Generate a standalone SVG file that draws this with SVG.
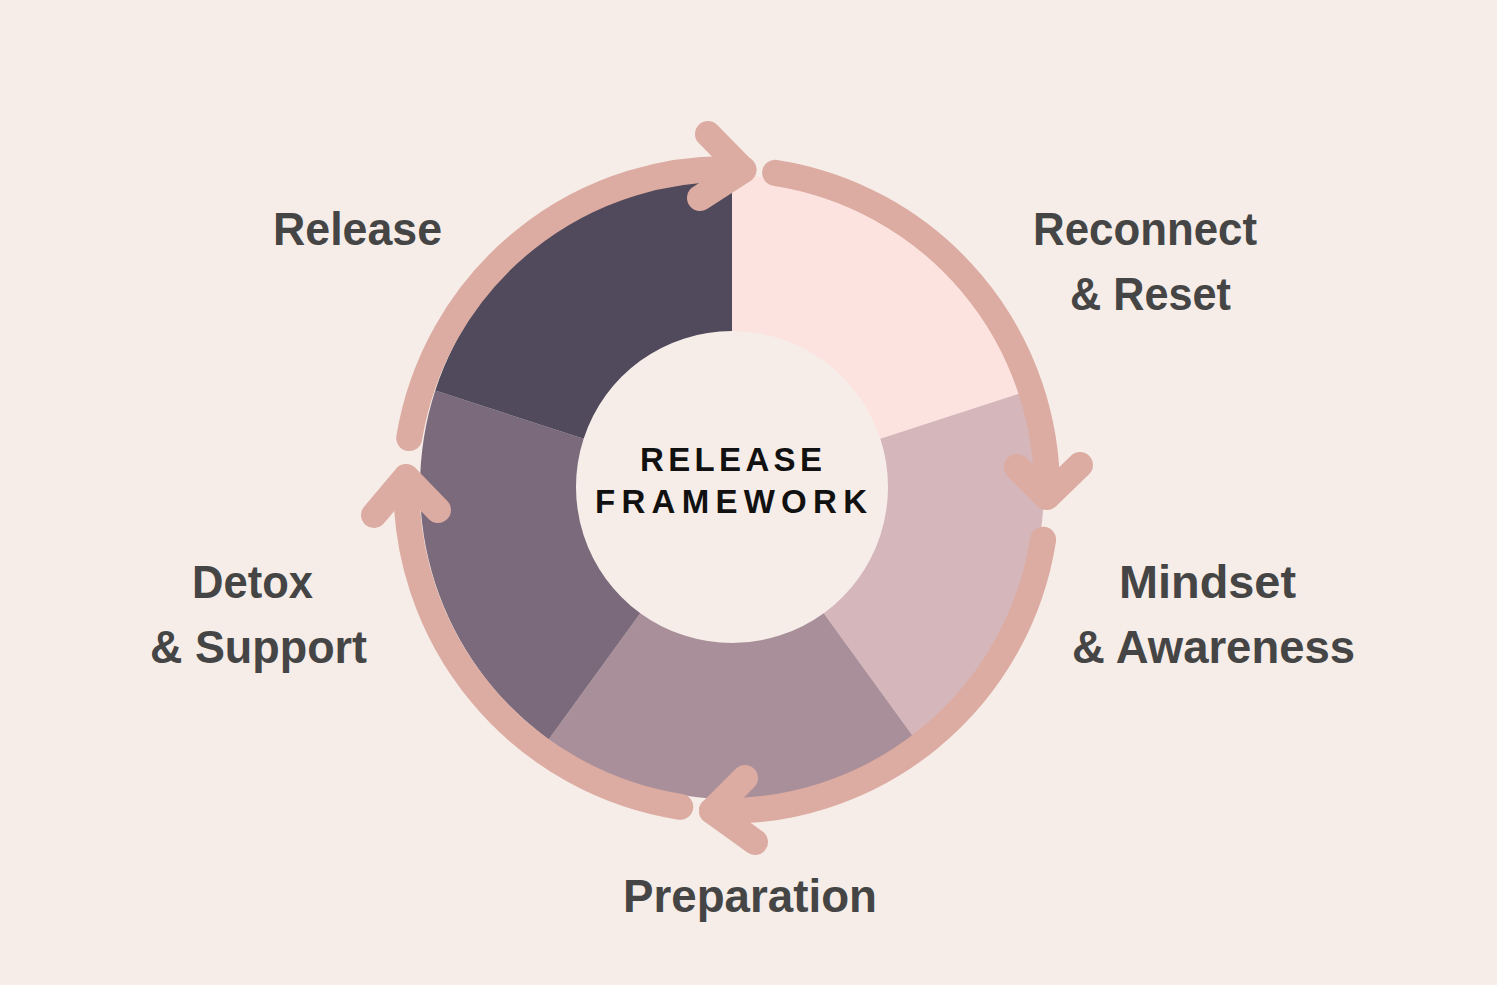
<svg xmlns="http://www.w3.org/2000/svg" width="1497" height="985" viewBox="0 0 1497 985">
<style>
.lbl{font-family:"Liberation Sans",Arial,sans-serif;font-weight:bold;font-size:46px;fill:#454545}
.ctr{font-family:"Liberation Sans",Arial,sans-serif;font-weight:bold;font-size:33px;fill:#111111}
.arc{fill:none;stroke:#DCABA1;stroke-width:26;stroke-linecap:round;stroke-linejoin:round}
</style>
<rect width="1497" height="985" fill="#F6EDE8"/>
<g id="seg-reconnect"><path d="M732,175 A312,312 0 0 1 1028.73,390.59 L880.37,438.79 A156,156 0 0 0 732,331 Z" fill="#FDE3DF"/></g>
<g id="seg-mindset"><path d="M1028.73,390.59 A312,312 0 0 1 915.39,739.41 L823.70,613.21 A156,156 0 0 0 880.37,438.79 Z" fill="#D5B6BA"/></g>
<g id="seg-preparation"><path d="M915.39,739.41 A312,312 0 0 1 548.61,739.41 L640.30,613.21 A156,156 0 0 0 823.70,613.21 Z" fill="#A98F99"/></g>
<g id="seg-detox"><path d="M548.61,739.41 A312,312 0 0 1 435.27,390.59 L583.63,438.79 A156,156 0 0 0 640.30,613.21 Z" fill="#7B6A7B"/></g>
<g id="seg-release"><path d="M435.27,390.59 A312,312 0 0 1 732,175 L732,331 A156,156 0 0 0 583.63,438.79 Z" fill="#504A5C"/></g>
<g id="connectors">
<path class="arc" d="M409.2,438.1 A321,321 0 0 1 743.4,169.5"/>
<path class="arc" d="M708,134 L743.4,170 L700,198"/>
<path class="arc" d="M775.1,172.8 A321,321 0 0 1 1046.9,496.7"/>
<path class="arc" d="M1017,467 L1047,497 L1080,465"/>
<path class="arc" d="M1043.1,539.7 A321,321 0 0 1 712,810.7"/>
<path class="arc" d="M745,778 L712,811 L755,842"/>
<path class="arc" d="M680.3,806.8 A324,324 0 0 1 406.5,477.4"/>
<path class="arc" d="M374,515 L406,477 L438,510"/>
</g>
<g id="center">
<text class="ctr" x="640" y="471" textLength="182" lengthAdjust="spacing">RELEASE</text>
<text class="ctr" x="595" y="513" textLength="272" lengthAdjust="spacing">FRAMEWORK</text>
</g>
<g id="label-release"><text class="lbl" x="273" y="245" textLength="169" lengthAdjust="spacingAndGlyphs">Release</text></g>
<g id="label-reconnect">
<text class="lbl" x="1033" y="245" textLength="224" lengthAdjust="spacingAndGlyphs">Reconnect</text>
<text class="lbl" x="1070" y="310" textLength="161" lengthAdjust="spacingAndGlyphs">&amp; Reset</text>
</g>
<g id="label-mindset">
<text class="lbl" x="1119" y="598" textLength="177" lengthAdjust="spacingAndGlyphs">Mindset</text>
<text class="lbl" x="1072" y="663" textLength="283" lengthAdjust="spacingAndGlyphs">&amp; Awareness</text>
</g>
<g id="label-detox">
<text class="lbl" x="192" y="598" textLength="121" lengthAdjust="spacingAndGlyphs">Detox</text>
<text class="lbl" x="150" y="663" textLength="217" lengthAdjust="spacingAndGlyphs">&amp; Support</text>
</g>
<g id="label-preparation"><text class="lbl" x="623" y="912" textLength="254" lengthAdjust="spacingAndGlyphs">Preparation</text></g>
</svg>
